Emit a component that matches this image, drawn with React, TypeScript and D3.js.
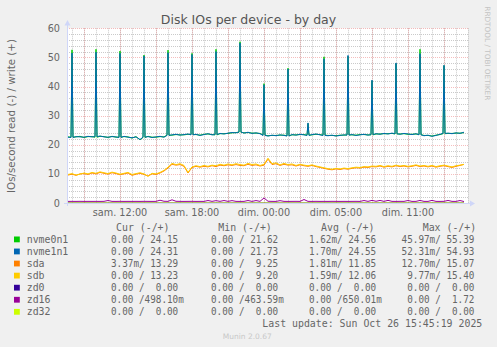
import React from "react";
import * as d3 from "d3";

const W = 497;
const H = 347;

const seriesNames = ["nvme0n1", "nvme1n1", "sda", "sdb", "zd0", "zd16", "zd32"];
const seriesColors = ["#00CC00", "#0066B3", "#FF8000", "#FFCC00", "#330099", "#990099", "#CCFF00"];

// samples: hours since left edge of plot, 20-minute steps
const sampleStart = 1 / 12;
const sampleStep = 1 / 3;

const nvme0n1Base = [
  22.7, 22.6, 22.7, 22.9, 22.5, 22.8, 22.8, 22.6, 22.9, 22.8,
  22.5, 22.9, 22.6, 22.6, 22.8, 22.7, 22.3, 22.8, 21.7, 22.5,
  22.9, 22.6, 22.6, 22.8, 22.7, 23.3, 23.3, 23.5, 23.4, 23.4,
  23.6, 23.5, 23.5, 23.3, 23.6, 23.7, 23.5, 23.4, 23.8, 23.8,
  23.9, 24.1, 24.2, 24.3, 24.1, 24.2, 24.0, 24.0, 23.9, 23.3,
  23.1, 23.2, 23.2, 23.3, 23.3, 23.1, 23.4, 23.4, 23.5, 23.5,
  23.3, 23.4, 23.6, 23.5, 23.3, 23.2, 23.2, 23.1, 23.3, 23.3,
  23.4, 23.4, 23.3, 23.5, 23.5, 23.4, 23.4, 23.7, 23.7, 23.8,
  23.8, 23.9, 23.7, 23.7, 23.8, 23.6, 23.6, 23.7, 23.5, 23.2,
  23.2, 23.0, 23.3, 23.5, 23.8, 23.9, 23.9, 24.0, 24.0, 24.15,
];
const nvme1n1Base = [
  22.6, 22.5, 22.8, 22.7, 22.6, 22.9, 22.7, 22.8, 23.0, 22.7,
  22.6, 22.8, 22.7, 22.5, 22.9, 22.6, 22.4, 22.7, 21.8, 22.6,
  22.8, 22.5, 22.7, 22.9, 22.6, 23.2, 23.4, 23.6, 23.3, 23.5,
  23.7, 23.4, 23.6, 23.2, 23.5, 23.8, 23.4, 23.5, 23.9, 23.7,
  24.0, 24.2, 24.1, 24.4, 24.0, 24.3, 23.9, 24.1, 23.8, 23.2,
  23.0, 23.3, 23.1, 23.4, 23.2, 23.0, 23.5, 23.3, 23.6, 23.4,
  23.2, 23.5, 23.7, 23.4, 23.2, 23.1, 23.3, 23.0, 23.2, 23.4,
  23.3, 23.5, 23.2, 23.4, 23.6, 23.3, 23.5, 23.8, 23.6, 23.9,
  23.7, 24.0, 23.8, 23.6, 23.9, 23.7, 23.5, 23.8, 23.4, 23.1,
  23.3, 22.9, 23.2, 23.6, 23.9, 24.0, 23.8, 24.1, 23.9, 24.31,
];
// [sample index, peak value]
const nvme0n1Spikes = [
  [1, 52.6], [7, 52.8], [13, 52.2], [19, 50.8], [25, 52.5], [31, 51.4], [37, 52.8], [43, 55.39],
  [49, 41.0], [55, 46.3], [60, 27.3], [64, 50.2], [70, 50.4], [76, 42.0], [82, 47.9], [88, 52.8], [94, 47.2],
];
const nvme1n1Spikes = [
  [1, 51.5], [7, 51.8], [13, 51.4], [19, 50.5], [25, 51.6], [31, 51.0], [37, 52.0], [43, 54.93],
  [49, 40.6], [55, 46.0], [60, 27.5], [64, 49.5], [70, 50.7], [76, 42.2], [82, 48.1], [88, 51.3], [94, 47.3],
];
const sdaValues = [
  9.6, 9.9, 9.5, 10.0, 10.1, 9.8, 10.3, 10.0, 10.5, 10.2,
  9.9, 10.4, 10.1, 9.7, 10.0, 10.3, 9.5, 9.9, 10.2, 9.8,
  9.25, 10.0, 9.8, 10.3, 11.0, 12.0, 13.3, 13.0, 13.2, 12.6,
  10.3, 12.2, 12.6, 12.3, 12.6, 12.4, 12.8, 12.5, 13.0, 12.8,
  13.1, 12.9, 13.2, 12.9, 12.8, 13.3, 12.9, 13.1, 12.7, 13.0,
  15.07, 13.2, 13.5, 12.9, 13.3, 13.0, 13.1, 12.7, 13.1, 12.8,
  12.6, 12.9, 12.5, 12.2, 11.9, 11.6, 11.4, 11.7, 11.5, 11.8,
  11.6, 11.9, 12.1, 12.0, 12.3, 12.2, 12.5, 12.4, 12.7, 12.3,
  12.6, 12.4, 12.8, 12.5, 12.7, 12.4, 12.6, 12.9, 12.5, 12.7,
  12.4, 12.7, 12.3, 12.6, 12.8, 12.5, 12.2, 12.6, 12.9, 13.29,
];
const sdbValues = [
  9.8, 10.1, 9.6, 9.9, 10.3, 10.0, 10.5, 10.2, 10.7, 10.4,
  10.1, 10.6, 10.3, 9.9, 10.2, 10.5, 9.8, 10.1, 10.4, 10.0,
  9.2, 10.2, 10.0, 10.5, 11.2, 12.3, 13.6, 13.2, 13.5, 12.9,
  10.5, 12.4, 12.8, 12.5, 12.9, 12.6, 13.0, 12.8, 13.3, 13.0,
  13.4, 13.1, 13.5, 13.2, 13.0, 13.6, 13.2, 13.4, 12.9, 13.3,
  15.4, 13.5, 13.8, 13.1, 13.6, 13.2, 13.4, 12.9, 13.3, 13.0,
  12.8, 13.1, 12.7, 12.4, 12.1, 11.8, 11.6, 11.9, 11.7, 12.0,
  11.8, 12.1, 12.3, 12.2, 12.5, 12.4, 12.7, 12.6, 12.9, 12.5,
  12.8, 12.6, 13.0, 12.7, 12.9, 12.6, 12.8, 13.1, 12.7, 12.9,
  12.6, 12.9, 12.5, 12.8, 13.0, 12.7, 12.4, 12.8, 13.0, 13.23,
];
const zd0Values = [
  0, 0, 0, 0, 0, 0, 0, 0, 0, 0, 0, 0, 0, 0, 0, 0, 0, 0, 0, 0,
  0, 0, 0, 0, 0, 0, 0, 0, 0, 0, 0, 0, 0, 0, 0, 0, 0, 0, 0, 0,
  0, 0, 0, 0, 0, 0, 0, 0, 0, 0, 0, 0, 0, 0, 0, 0, 0, 0, 0, 0,
  0, 0, 0, 0, 0, 0, 0, 0, 0, 0, 0, 0, 0, 0, 0, 0, 0, 0, 0, 0,
  0, 0, 0, 0, 0, 0, 0, 0, 0, 0, 0, 0, 0, 0, 0, 0, 0, 0, 0, 0,
];
const zd16Values = [
  0.55, 0.56, 0.55, 0.57, 0.55, 0.56, 0.55, 0.56, 0.55, 0.57,
  0.85, 0.56, 0.55, 0.57, 0.55, 0.56, 0.55, 0.56, 0.55, 0.57,
  0.56, 0.55, 0.56, 0.95, 0.6, 0.56, 1.1, 0.58, 0.56, 0.55,
  0.56, 0.57, 0.55, 0.56, 0.55, 0.85, 0.56, 0.8, 0.57, 0.85,
  0.56, 0.82, 0.56, 0.55, 0.56, 0.85, 0.55, 0.84, 0.56, 1.72,
  0.6, 0.56, 0.55, 0.8, 0.56, 0.55, 0.56, 0.57, 0.55, 1.2,
  0.56, 0.55, 0.57, 0.55, 0.56, 0.55, 0.57, 0.56, 0.55, 0.56,
  0.55, 0.56, 0.57, 0.55, 0.85, 0.56, 0.9, 0.6, 0.88, 0.56,
  0.9, 0.56, 0.55, 0.57, 0.56, 0.85, 0.55, 0.56, 0.88, 0.56,
  0.55, 0.9, 0.56, 0.55, 0.57, 0.87, 0.56, 0.55, 0.85, 0.498,
];
const zd32Values = [
  0, 0, 0, 0, 0, 0, 0, 0, 0, 0, 0, 0, 0, 0, 0, 0, 0, 0, 0, 0,
  0, 0, 0, 0, 0, 0, 0, 0, 0, 0, 0, 0, 0, 0, 0, 0, 0, 0, 0, 0,
  0, 0, 0, 0, 0, 0, 0, 0, 0, 0, 0, 0, 0, 0, 0, 0, 0, 0, 0, 0,
  0, 0, 0, 0, 0, 0, 0, 0, 0, 0, 0, 0, 0, 0, 0, 0, 0, 0, 0, 0,
  0, 0, 0, 0, 0, 0, 0, 0, 0, 0, 0, 0, 0, 0, 0, 0, 0, 0, 0, 0,
];

// x-axis labels (hours since plot start)
const xLabelHours = [53 / 12, 53 / 12 + 6, 53 / 12 + 12, 53 / 12 + 18, 53 / 12 + 24];
const xLabels = ["sam. 12:00", "sam. 18:00", "dim. 00:00", "dim. 05:00", "dim. 11:00"];
const yTicks = [0, 10, 20, 30, 40, 50, 60];

const curValues = [["0.00", "24.15"], ["0.00", "24.31"], ["3.37m", "13.29"], ["0.00", "13.23"], ["0.00", "0.00"], ["0.00", "498.10m"], ["0.00", "0.00"]];
const minValues = [["0.00", "21.62"], ["0.00", "21.73"], ["0.00", "9.25"], ["0.00", "9.20"], ["0.00", "0.00"], ["0.00", "463.59m"], ["0.00", "0.00"]];
const avgValues = [["1.62m", "24.56"], ["1.70m", "24.55"], ["1.81m", "11.85"], ["1.59m", "12.06"], ["0.00", "0.00"], ["0.00", "650.01m"], ["0.00", "0.00"]];
const maxValues = [["45.97m", "55.39"], ["52.31m", "54.93"], ["12.70m", "15.07"], ["9.77m", "15.40"], ["0.00", "0.00"], ["0.00", "1.72"], ["0.00", "0.00"]];
const columnHeaders = ["Cur (-/+)", "Min (-/+)", "Avg (-/+)", "Max (-/+)"];

const PL = 67, PR = 468, PT = 28.3, PB = 203;
const HOURS = 401 / 12;

function buildPoints(base: number[], spikes: number[][] | null) {
  const spikeMap = new Map<number, number>();
  if (spikes) spikes.forEach(([i, v]) => spikeMap.set(i, v));
  const pts: [number, number][] = [];
  base.forEach((v, i) => {
    const t = sampleStart + i * sampleStep;
    if (spikeMap.has(i)) {
      pts.push([t - 1 / 12, v]);
      pts.push([t, spikeMap.get(i)!]);
      pts.push([t + 1 / 12, v]);
    } else {
      pts.push([t, v]);
    }
  });
  return pts;
}

function cellText(rd: string, wr: string) {
  const rdM = rd.endsWith("m");
  const wrM = wr.endsWith("m");
  const rdNum = rdM ? rd.slice(0, -1) : rd;
  const wrNum = wrM ? wr.slice(0, -1) : wr;
  return rdNum.padStart(5, " ") + (rdM ? "m" : " ") + "/" + wrNum.padStart(6, " ") + (wrM ? "m" : "");
}

export default function App() {
  const x = d3.scaleLinear().domain([0, HOURS]).range([PL, PR]);
  const y = d3.scaleLinear().domain([0, 60]).range([PB, PT]);
  const line = d3.line<[number, number]>().x((d) => x(d[0])).y((d) => y(d[1]));

  const series = [
    buildPoints(nvme0n1Base, nvme0n1Spikes),
    buildPoints(nvme1n1Base, nvme1n1Spikes),
    buildPoints(sdaValues, null),
    buildPoints(sdbValues, null),
    buildPoints(zd0Values, null),
    buildPoints(zd16Values, null),
    buildPoints(zd32Values, null),
  ];

  const minorX: number[] = [];
  for (let h = 5 / 12; h <= HOURS + 1e-6; h += 1) minorX.push(h);
  const majorX: number[] = [];
  for (let h = 17 / 12; h <= HOURS + 1e-6; h += 3) majorX.push(h);
  const minorY = d3.range(0, 61, 2).filter((v) => v % 10 !== 0);
  const majorY = d3.range(10, 61, 10);

  const gridMinor = "rgba(150,150,150,0.5)";
  const gridMajor = "rgba(230,90,90,0.4)";
  const axisColor = "#CFD6F8";
  const font = "'DejaVu Sans', sans-serif";
  const mono = "'DejaVu Sans Mono', monospace";
  const fc = "#666";

  const colStart = [105.4, 205.4, 303.4, 401.6];
  const colHeadX = [116, 218.3, 321, 422.7];
  const cols = [curValues, minValues, avgValues, maxValues];
  const rowY = (i: number) => 243 + i * 12.07;
  const CHAR = 5.6;

  return (
    <svg width={W} height={H} style={{ display: "block", position: "absolute", left: 0, top: 0 }}>
      <rect x={0} y={0} width={W} height={H} fill="#F0F0F0" />
      <rect x={PL} y={PT} width={PR - PL} height={PB - PT} fill="#FFFFFF" />

      {/* grid */}
      {minorY.map((v) => (
        <line key={`my${v}`} x1={PL} x2={PR} y1={Math.round(y(v)) + 0.5} y2={Math.round(y(v)) + 0.5} stroke={gridMinor} strokeDasharray="1,1" strokeWidth={1} />
      ))}
      {minorX.map((h, i) => (
        <line key={`mx${i}`} x1={Math.round(x(h)) + 0.5} x2={Math.round(x(h)) + 0.5} y1={PT} y2={PB} stroke={gridMinor} strokeDasharray="1,1" strokeWidth={1} />
      ))}
      {majorY.map((v) => (
        <line key={`My${v}`} x1={PL} x2={PR} y1={Math.round(y(v)) + 0.5} y2={Math.round(y(v)) + 0.5} stroke={gridMajor} strokeDasharray="1,1" strokeWidth={1} />
      ))}
      {majorX.map((h, i) => (
        <line key={`Mx${i}`} x1={Math.round(x(h)) + 0.5} x2={Math.round(x(h)) + 0.5} y1={PT} y2={PB} stroke={gridMajor} strokeDasharray="1,1" strokeWidth={1} />
      ))}

      {/* data */}
      {series.map((pts, i) => (
        <path key={seriesNames[i]} d={line(pts) || ""} fill="none" stroke={seriesColors[i]} strokeWidth={1} />
      ))}

      {/* axes */}
      <line x1={PL + 0.5} x2={PL + 0.5} y1={PB + 3} y2={22} stroke={axisColor} strokeWidth={1} />
      <polygon points={`${PL - 2.5},${25.5} ${PL + 3.5},${25.5} ${PL + 0.5},${20}`} fill={axisColor} />
      <line x1={PL - 3} x2={PR + 3} y1={PB + 0.5} y2={PB + 0.5} stroke={axisColor} strokeWidth={1} />
      <polygon points={`${PR + 2},${PB - 2.5} ${PR + 2},${PB + 3.5} ${PR + 7},${PB + 0.5}`} fill={axisColor} />

      {/* tick labels */}
      <g fontFamily={font} fontSize={9.7} fill={fc}>
        {yTicks.map((v) => (
          <text key={`yt${v}`} x={60} y={y(v) + 3.5} textAnchor="end">{v}</text>
        ))}
        {xLabelHours.map((h, i) => (
          <text key={`xt${i}`} x={x(h)} y={215.8} textAnchor="middle">{xLabels[i]}</text>
        ))}
      </g>

      {/* title */}
      <text x={248.5} y={24} textAnchor="middle" fontFamily={font} fontSize={12.5} fill="#555">Disk IOs per device - by day</text>
      <text transform="translate(15,116) rotate(-90)" textAnchor="middle" fontFamily={font} fontSize={10.3} fill={fc}>IOs/second read (-) / write (+)</text>
      <text transform="translate(485,53.3) rotate(90)" textAnchor="middle" fontFamily={font} fontSize={7.3} fill="#c4c4c4">RRDTOOL / TOBI OETIKER</text>

      {/* legend */}
      <g fontFamily={mono} fontSize={9.9} fill={fc}>
        {columnHeaders.map((h, i) => (
          <text key={`h${i}`} x={colHeadX[i]} y={231} style={{ whiteSpace: "pre" }}>{h}</text>
        ))}
        {seriesNames.map((n, i) => (
          <g key={`lg${n}`}>
            <rect x={14} y={rowY(i) - 6.5} width={5.8} height={5.8} fill={seriesColors[i]} />
            <text x={26.7} y={rowY(i)}>{n}</text>
          </g>
        ))}
        {seriesNames.map((_, ri) =>
          cols.map((col, ci) => {
            const s = cellText(col[ri][0], col[ri][1]);
            return (
              <text key={`c${ci}-${ri}`} x={colStart[ci]} y={rowY(ri)} style={{ whiteSpace: "pre" }}
                textLength={s.length * CHAR} lengthAdjust="spacingAndGlyphs">{s}</text>
            );
          })
        )}
        <text x={482.3} y={326.8} textAnchor="end" style={{ whiteSpace: "pre" }}>Last update: Sun Oct 26 15:45:19 2025</text>
      </g>
      <text x={222.7} y={338.5} fontFamily={font} fontSize={7.5} fill="#c8c8c8">Munin 2.0.67</text>
    </svg>
  );
}
